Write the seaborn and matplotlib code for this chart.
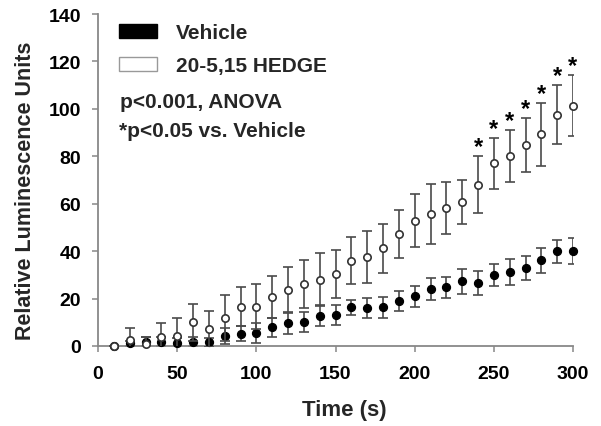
import numpy as np
import pandas as pd
import seaborn as sns
import matplotlib.pyplot as plt
from matplotlib.patches import Patch

time_s = [10, 20, 30, 40, 50, 60, 70, 80, 90, 100, 110, 120, 130, 140, 150,
          160, 170, 180, 190, 200, 210, 220, 230, 240, 250, 260, 270, 280, 290, 300]
vehicle_mean = [0, 1.1, 1.8, 1.8, 1.3, 1.8, 1.5, 4.1, 5.1, 5.5, 7.9, 9.5, 10, 12.8, 13.1,
                16.3, 16, 16.3, 19.1, 21, 24, 24.7, 27.2, 26.4, 29.9, 31.2, 32.9, 36.1, 39.9, 40]
vehicle_sem = [0, 1, 2, 2, 2, 2, 2, 3.3, 3.2, 4.1, 4, 4.3, 4.2, 4.4, 4.4,
               3.3, 4.3, 4.5, 4.3, 4.5, 4.7, 4.5, 5.3, 5.1, 4.7, 5.3, 5.2, 5.2, 5, 5.5]
hedge_mean = [0, 2.5, 0.8, 4, 4.3, 10, 7.2, 11.8, 16.6, 16.6, 20.5, 23.8, 26.1, 28, 30.2,
              35.9, 37.7, 41.2, 47.2, 52.9, 55.7, 58.1, 60.6, 68, 77, 80, 84.8, 89.3, 97.6, 101.4]
hedge_sem = [0, 5, 3, 5.7, 7.5, 7.7, 7.7, 9.7, 8.1, 9.4, 8.9, 9.6, 10, 11.2, 10.1,
             9.9, 11, 10.4, 10.2, 11, 12.5, 11, 9.3, 12, 10.7, 11, 11.5, 13.3, 12.5, 12.8]
signif_times = [240, 250, 260, 270, 280, 290, 300]

veh = pd.DataFrame({'t': time_s, 'm': vehicle_mean, 'e': vehicle_sem})
hed = pd.DataFrame({'t': time_s, 'm': hedge_mean, 'e': hedge_sem})

sns.set_style('ticks')
plt.rcParams['font.family'] = ['Liberation Sans', 'DejaVu Sans']
plt.rcParams['font.weight'] = 'bold'

fig = plt.figure(figsize=(6.01, 4.27), dpi=100)
ax = fig.add_axes([98 / 601, 80 / 427, 475 / 601, 332 / 427])

errc = '#4a4a4a'
ax.errorbar(veh['t'], veh['m'], yerr=veh['e'], fmt='none', ecolor=errc,
            elinewidth=1.2, capsize=3.8, capthick=1.2, zorder=2)
sns.scatterplot(data=veh, x='t', y='m', ax=ax, color='black', edgecolor='black',
                s=32, linewidth=1, zorder=3, clip_on=False)
ax.errorbar(hed['t'], hed['m'], yerr=hed['e'], fmt='none', ecolor=errc,
            elinewidth=1.2, capsize=3.8, capthick=1.2, zorder=4)
sns.scatterplot(data=hed, x='t', y='m', ax=ax, color='white', edgecolor='#333333',
                s=28, linewidth=1.2, zorder=5, clip_on=False)

for t in signif_times:
    row = hed[hed['t'] == t].iloc[0]
    ax.text(t, row['m'] + row['e'] + 4, '*', ha='center', va='center',
            fontsize=17, fontweight='bold', color='black')

ax.set_xlim(0, 300)
ax.set_ylim(0, 140)
ax.set_xticks(range(0, 301, 50))
ax.set_yticks(range(0, 141, 20))
ax.tick_params(axis='both', colors='#888888', labelcolor='black', labelsize=14,
               length=4, width=1.1)
ax.tick_params(axis='x', pad=10)
ax.tick_params(axis='y', pad=8)
for s in ['left', 'bottom']:
    ax.spines[s].set_color('#888888')
    ax.spines[s].set_linewidth(1.3)
sns.despine(ax=ax)

ax.set_xlabel('Time (s)', fontsize=16, fontweight='bold')
ax.xaxis.set_label_coords(0.518, -0.16)
ax.set_ylabel('Relative Luminescence Units', fontsize=15.5, fontweight='bold')
ax.yaxis.set_label_coords(-0.13, 0.47)

handles = [Patch(facecolor='black', edgecolor='black'),
           Patch(facecolor='white', edgecolor='#999999')]
leg = ax.legend(handles, ['Vehicle', '20-5,15 HEDGE'], loc='upper left',
                bbox_to_anchor=(0.044, 0.972), frameon=False, fontsize=15,
                handlelength=1.83, handleheight=0.67, handletextpad=0.9,
                labelspacing=0.68, borderpad=0, borderaxespad=0)
ax.text(0.046, 0.72, 'p<0.001, ANOVA', transform=ax.transAxes, fontsize=15,
        fontweight='bold', va='baseline')
ax.text(0.044, 0.632, '*p<0.05 vs. Vehicle', transform=ax.transAxes, fontsize=15,
        fontweight='bold', va='baseline')

fig.savefig('out.png', dpi=100)
